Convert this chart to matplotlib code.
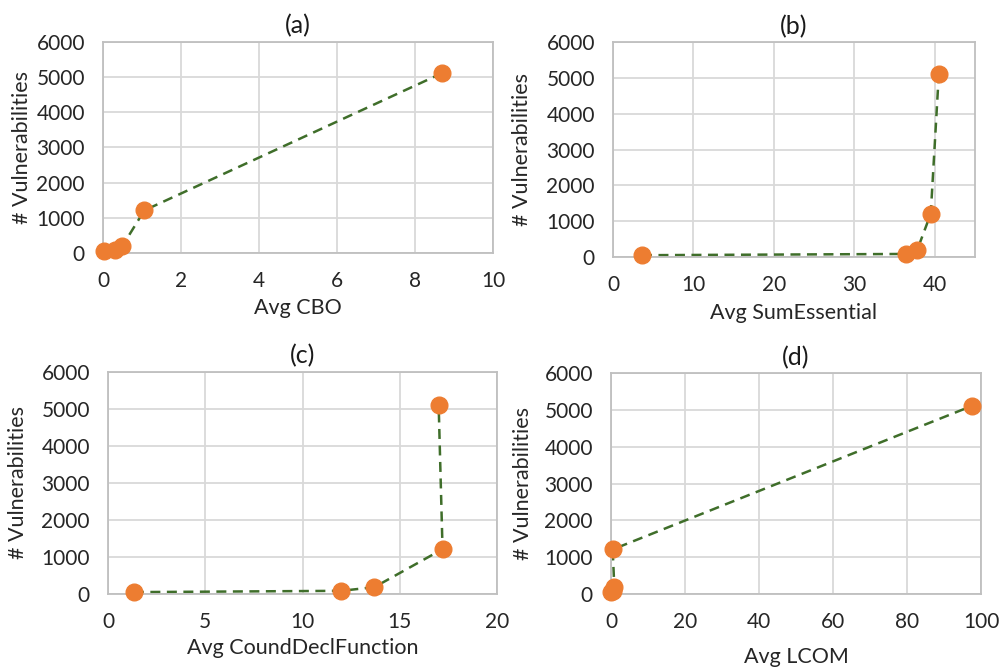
import matplotlib
matplotlib.use("Agg")
import matplotlib.pyplot as plt

plt.rcParams['font.family'] = ['Lato', 'DejaVu Sans']

vulns = [50, 85, 185, 1210, 5110]

cbo = [0.02, 0.32, 0.49, 1.06, 8.69]
sum_essential = [3.6, 36.4, 37.8, 39.5, 40.5]
count_decl_function = [1.33, 12.0, 13.7, 17.2, 17.0]
lcom = [0.05, 0.6, 0.9, 0.45, 97.5]

panels = [
    dict(title="(a)", x=cbo, xlabel="Avg CBO", xlim=(0, 10), xticks=[0, 2, 4, 6, 8, 10],
         rect=[0.103, 0.623, 0.390, 0.3145], xlab_px=308, ylab_px=22),
    dict(title="(b)", x=sum_essential, xlabel="Avg SumEssential", xlim=(0, 45), xticks=[0, 10, 20, 30, 40],
         rect=[0.613, 0.617, 0.362, 0.320], xlab_px=313, ylab_px=522),
    dict(title="(c)", x=count_decl_function, xlabel="Avg CoundDeclFunction", xlim=(0, 20), xticks=[0, 5, 10, 15, 20],
         rect=[0.108, 0.1148, 0.389, 0.331], xlab_px=648, ylab_px=18),
    dict(title="(d)", x=lcom, xlabel="Avg LCOM", xlim=(0, 100), xticks=[0, 20, 40, 60, 80, 100],
         rect=[0.611, 0.1148, 0.370, 0.329], xlab_px=657, ylab_px=523),
]

W, H = 1000, 671
fig = plt.figure(figsize=(10, 6.71), dpi=100)

for p in panels:
    ax = fig.add_axes(p["rect"])
    ax.plot(p["x"], vulns, linestyle=(0, (4, 2.6)), color="#3F6E2A", linewidth=1.8, zorder=2)
    ax.plot(p["x"], vulns, linestyle="none", marker="o", markersize=12, clip_on=False,
            markerfacecolor="#ED7D31", markeredgecolor="#ED7D31", zorder=3)
    ax.set_xlim(*p["xlim"])
    ax.set_ylim(0, 6000)
    ax.set_xticks(p["xticks"])
    ax.set_yticks([0, 1000, 2000, 3000, 4000, 5000, 6000])
    ax.grid(True, color="#D9D9D9", linewidth=1.3)
    ax.set_axisbelow(True)
    for s in ax.spines.values():
        s.set_color("#BFBFBF")
        s.set_linewidth(1.3)
    ax.tick_params(length=0, labelsize=15, colors="#262626", pad=13)
    ax.set_title(p["title"], fontsize=18, color="#1a1a1a", pad=6)
    ax.set_xlabel(p["xlabel"], fontsize=15.5, color="#262626")
    ax.set_ylabel("# Vulnerabilities", fontsize=15.5, color="#262626")
    l, b, w, h = p["rect"]
    bot_px = (1 - b) * H
    left_px = l * W
    ax.xaxis.label.set_va("center")
    ax.xaxis.set_label_coords(0.5, (bot_px - p["xlab_px"]) / (h * H))
    ax.yaxis.label.set_va("center")
    ax.yaxis.set_label_coords((p["ylab_px"] - left_px) / (w * W), 0.5)

fig.savefig("out.png", dpi=100, facecolor="white")
